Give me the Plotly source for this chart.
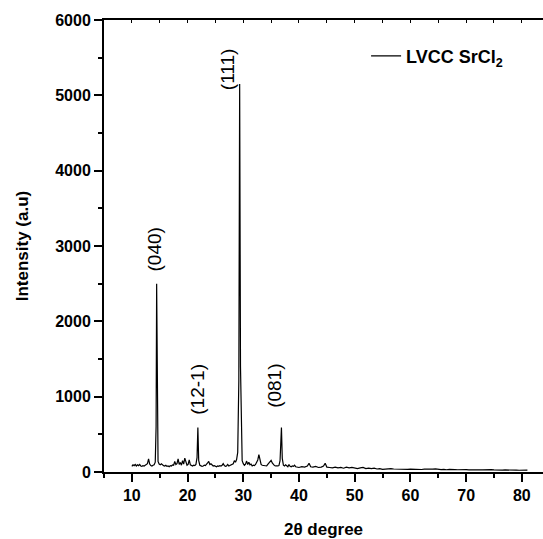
import plotly.graph_objects as go

two_theta = [
    10.0, 10.2, 10.4, 10.6, 10.8, 11.0, 11.2, 11.4, 11.6, 11.8,
    12.0, 12.2, 12.4, 12.6, 12.8, 13.0, 13.2, 13.4, 13.6, 13.8,
    14.0, 14.2, 14.35, 14.45, 14.55, 14.7, 14.9, 15.1, 15.3, 15.5,
    15.7, 15.9, 16.1, 16.3, 16.5, 16.7, 16.9, 17.1, 17.3, 17.5,
    17.7, 17.9, 18.1, 18.3, 18.5, 18.7, 18.9, 19.1, 19.3, 19.5,
    19.7, 19.9, 20.1, 20.3, 20.5, 20.7, 20.9, 21.1, 21.3, 21.5,
    21.7, 21.85, 22.0, 22.2, 22.4, 22.6, 22.8, 23.0, 23.2, 23.4,
    23.6, 23.8, 24.0, 24.2, 24.4, 24.6, 24.8, 25.0, 25.2, 25.4,
    25.6, 25.8, 26.0, 26.2, 26.4, 26.6, 26.8, 27.0, 27.2, 27.4,
    27.6, 27.8, 28.0, 28.2, 28.4, 28.6, 28.8, 29.0, 29.2, 29.35,
    29.5, 29.65, 29.8, 30.0, 30.2, 30.4, 30.6, 30.8, 31.0, 31.2,
    31.4, 31.6, 31.8, 32.0, 32.2, 32.4, 32.6, 32.8, 33.0, 33.2,
    33.4, 33.6, 33.8, 34.0, 34.2, 34.4, 34.6, 34.8, 35.0, 35.2,
    35.4, 35.6, 35.8, 36.0, 36.2, 36.4, 36.6, 36.85, 37.0, 37.2,
    37.4, 37.6, 37.8, 38.0, 38.2, 38.4, 38.6, 38.8, 39.0, 39.2,
    39.4, 39.6, 39.8,
    40.0, 40.5, 41.0, 41.5, 41.8, 42.1, 42.5, 43.0, 43.5, 44.0,
    44.4, 44.7, 45.0, 45.5, 46.0, 46.5, 47.0, 47.5, 48.0, 48.5,
    49.0, 49.5, 50.0, 50.5, 51.0, 51.5, 52.0, 52.5, 53.0, 53.5,
    54.0, 54.5, 55.0, 55.5, 56.0, 56.5, 57.0, 57.5, 58.0, 58.5,
    59.0, 59.5, 60.0, 60.5, 61.0, 61.5, 62.0, 62.5, 63.0, 63.5,
    64.0, 64.5, 65.0, 65.5, 66.0, 66.5, 67.0, 67.5, 68.0, 68.5,
    69.0, 69.5, 70.0, 70.5, 71.0, 71.5, 72.0, 72.5, 73.0, 73.5,
    74.0, 74.5, 75.0, 75.5, 76.0, 76.5, 77.0, 77.5, 78.0, 78.5,
    79.0, 79.5, 80.0, 80.5, 81.0,
]
intensity = [
    75, 95, 85, 100, 80, 95, 85, 100, 80, 75,
    85, 80, 90, 95, 110, 175, 105, 85, 80, 90,
    95, 130, 600, 2500, 650, 140, 105, 95, 110, 90,
    85, 80, 90, 75, 80, 70, 85, 80, 95, 90,
    140, 100, 110, 175, 100, 125, 90, 150, 105, 185,
    115, 90, 100, 160, 95, 85, 80, 90, 85, 100,
    190, 590, 150, 90, 80, 75, 80, 90, 85, 110,
    120, 140, 100, 110, 90, 80, 85, 75, 70, 80,
    75, 85, 80, 90, 110, 85, 75, 80, 100, 80,
    85, 90, 95, 110, 150, 130, 165, 260, 1200, 5150,
    1400, 300, 150, 110, 90, 105, 145, 100, 130, 95,
    105, 80, 90, 85, 100, 130, 160, 230, 140, 100,
    90, 85, 80, 85, 80, 100, 120, 140, 155, 120,
    100, 85, 80, 75, 80, 85, 150, 590, 180, 90,
    80, 95, 75, 70, 100, 75, 70, 80, 75, 90,
    70, 65, 70,
    60, 70, 65, 80, 115, 70, 65, 75, 60, 65,
    80, 115, 65, 60, 55, 65, 55, 60, 50, 65,
    55, 60, 50, 45, 55, 60, 45, 50, 45, 50,
    40, 45, 35, 40, 40, 45, 40, 38, 40, 35,
    40, 35, 38, 35, 40, 35, 33, 38, 35, 40,
    38, 42, 35, 32, 35, 30, 35, 38, 32, 30,
    33, 30, 32, 28, 30, 33, 28, 30, 27, 30,
    28, 32, 28, 25, 28, 25, 27, 24, 26, 24,
    25, 23, 25, 22, 24,
]

# peak (hkl) labels and their positions (2-theta, intensity)
peak_labels = ["(040)", "(12-1)", "(111)", "(081)"]
label_x = [14.1, 21.8, 27.3, 35.6]
label_y = [2950, 1100, 5350, 1150]

series_name = "LVCC SrCl<sub>2</sub>"

FONT = "Liberation Sans, Arial, sans-serif"

fig = go.Figure()
fig.add_trace(go.Scatter(
    x=two_theta, y=intensity, mode="lines", name=series_name,
    line=dict(color="black", width=1.2), showlegend=True,
))
# invisible trace to carry the top axis
fig.add_trace(go.Scatter(x=[two_theta[0]], y=[intensity[0]], xaxis="x2",
                         mode="lines", line=dict(width=0), showlegend=False,
                         hoverinfo="skip"))

for t, x, y in zip(peak_labels, label_x, label_y):
    fig.add_annotation(x=x, y=y, text=t, textangle=-90, showarrow=False,
                       font=dict(family=FONT, size=19, color="black"))

fig.update_layout(
    width=543, height=539,
    margin=dict(l=104, r=0, t=20, b=67),
    paper_bgcolor="white", plot_bgcolor="white",
    font=dict(family=FONT, color="black"),
    showlegend=True,
    legend=dict(x=0.597, y=0.92, xanchor="left", yanchor="middle",
                bgcolor="rgba(0,0,0,0)",
                font=dict(family=FONT, size=18, color="black", weight="bold")),
    xaxis=dict(
        range=[5, 83.8], showgrid=False, zeroline=False,
        showline=True, linecolor="black", linewidth=2,
        ticks="outside", ticklen=8, tickwidth=2, tickcolor="black",
        tick0=0, dtick=10,
        tickfont=dict(family=FONT, size=16, color="black", weight="bold"),
        minor=dict(ticks="outside", ticklen=4, tickwidth=2, tickcolor="black",
                   dtick=5, tick0=0, showgrid=False),
        title=dict(text="2θ degree", standoff=20,
                   font=dict(family=FONT, size=17, color="black", weight="bold")),
    ),
    xaxis2=dict(
        overlaying="x", side="top", range=[5, 83.8],
        showgrid=False, zeroline=False, showline=True, linecolor="black",
        linewidth=2, ticks="inside", ticklen=3, tickwidth=1, tickcolor="black",
        tick0=0, dtick=5, showticklabels=False,
    ),
    yaxis=dict(
        range=[0, 6000], showgrid=False, zeroline=False,
        showline=True, linecolor="black", linewidth=2,
        ticks="outside", ticklen=8, tickwidth=2, tickcolor="black",
        tick0=0, dtick=1000,
        tickfont=dict(family=FONT, size=16, color="black", weight="bold"),
        minor=dict(ticks="outside", ticklen=4, tickwidth=2, tickcolor="black",
                   dtick=500, tick0=0, showgrid=False),
        title=dict(text="Intensity (a.u)", standoff=22,
                   font=dict(family=FONT, size=17, color="black", weight="bold")),
    ),
)

fig.write_html("out.html")
